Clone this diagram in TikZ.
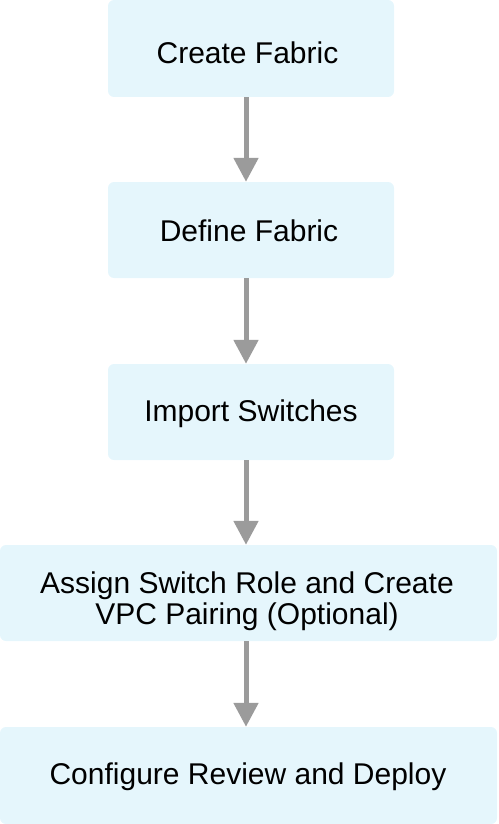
\documentclass[tikz,border=0pt]{standalone}
\usepackage{fontspec}
\setmainfont{Liberation Sans}
\usetikzlibrary{arrows.meta}
\definecolor{boxfill}{HTML}{E5F6FC}
\definecolor{arrowgray}{HTML}{9B9B9B}
\begin{document}
\begin{tikzpicture}[x=1pt,y=-1pt,
  stepbox/.style={fill=boxfill,draw=none,rounded corners=6pt,inner sep=0pt},
  steptext/.style={inner sep=0pt,align=center,anchor=base,
    font=\fontsize{30}{31}\selectfont},
  flow/.style={draw=arrowgray,line width=5pt,-{Triangle[width=24pt,length=24pt]}}]
\useasboundingbox (0,0) rectangle (498,824);
\node[stepbox,minimum width=286pt,minimum height=97pt] (a) at (251,48.5) {};
\node[stepbox,minimum width=286pt,minimum height=96pt] (b) at (251,230) {};
\node[stepbox,minimum width=286pt,minimum height=96pt] (c) at (251,412) {};
\node[stepbox,minimum width=497pt,minimum height=96pt] (d) at (248.5,593) {};
\node[stepbox,minimum width=497pt,minimum height=97pt] (e) at (248.5,775.5) {};
\node[steptext] (ta) at (247.5,63.3) {Create Fabric};
\node[steptext] (tb) at (249,241) {Define Fabric};
\node[steptext] (tc) at (251,421.7) {Import Switches};
\node[steptext] (td) at (247,624) {Assign Switch Role and Create\\VPC Pairing (Optional)};
\node[steptext] (te) at (248,784.3) {Configure Review and Deploy};
\draw[flow] (a.south -| 246,0) -- (b.north -| 246,0);
\draw[flow] (b.south -| 246,0) -- (c.north -| 246,0);
\draw[flow] (c.south -| 246,0) -- (d.north -| 246,0);
\draw[flow] (d.south -| 246,0) -- (e.north -| 246,0);
\end{tikzpicture}
\end{document}
